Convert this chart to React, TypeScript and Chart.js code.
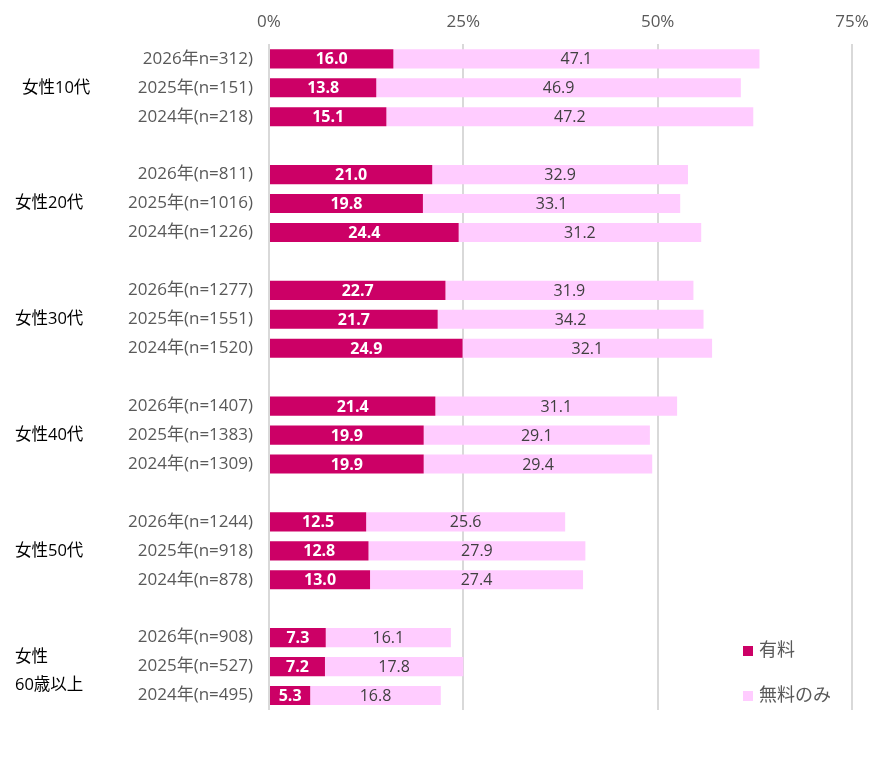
import { useEffect, useRef } from 'react';
import { Chart, registerables } from 'chart.js';

Chart.register(...registerables);

// rows: 3 years per group, blank row between groups
const rowLabels = [
  '2026年n=312)', '2025年(n=151)', '2024年(n=218)', '',
  '2026年(n=811)', '2025年(n=1016)', '2024年(n=1226)', '',
  '2026年(n=1277)', '2025年(n=1551)', '2024年(n=1520)', '',
  '2026年(n=1407)', '2025年(n=1383)', '2024年(n=1309)', '',
  '2026年(n=1244)', '2025年(n=918)', '2024年(n=878)', '',
  '2026年(n=908)', '2025年(n=527)', '2024年(n=495)',
];

const paid = [
  16.0, 13.8, 15.1, null,
  21.0, 19.8, 24.4, null,
  22.7, 21.7, 24.9, null,
  21.4, 19.9, 19.9, null,
  12.5, 12.8, 13.0, null,
  7.3, 7.2, 5.3,
];

const freeOnly = [
  47.1, 46.9, 47.2, null,
  32.9, 33.1, 31.2, null,
  31.9, 34.2, 32.1, null,
  31.1, 29.1, 29.4, null,
  25.6, 27.9, 27.4, null,
  16.1, 17.8, 16.8,
];

const groupLabels = [['女性10代'], ['女性20代'], ['女性30代'], ['女性40代'], ['女性50代'], ['女性', '60歳以上']];
const xTicks = [0, 25, 50, 75];
const seriesNames = ['有料', '無料のみ'];

const PAID_COLOR = '#CC0066';
const FREE_COLOR = '#FFCCFF';
const FONT = "'Open Sans', 'Noto Sans CJK JP', sans-serif";

const labelPlugin = {
  id: 'extraLabels',
  afterDatasetsDraw(chart: any) {
    const ctx = chart.ctx;
    ctx.save();
    ctx.textBaseline = 'middle';
    ctx.textAlign = 'center';
    chart.data.datasets.forEach((ds: any, di: number) => {
      const meta = chart.getDatasetMeta(di);
      meta.data.forEach((el: any, i: number) => {
        const v = ds.data[i];
        if (v == null) return;
        const { x, base, y } = el.getProps(['x', 'base', 'y'], true);
        if (di === 0) {
          ctx.fillStyle = '#FFFFFF';
          ctx.font = `bold 16px ${FONT}`;
        } else {
          ctx.fillStyle = '#404040';
          ctx.font = `16px ${FONT}`;
        }
        ctx.fillText(v.toFixed(1), (x + base) / 2, y + 1);
      });
    });
    ctx.restore();
  },
  afterDraw(chart: any) {
    const ctx = chart.ctx;
    const yScale = chart.scales.y;
    ctx.save();
    ctx.textBaseline = 'middle';
    ctx.textAlign = 'left';
    ctx.font = `16.5px ${FONT}`;
    ctx.fillStyle = '#000000';
    groupLabels.forEach((lines, g) => {
      const yMid = yScale.getPixelForValue(g * 4 + 1);
      const x = g === 0 ? 22 : 15;
      if (lines.length === 1) {
        ctx.fillText(lines[0], x, yMid);
      } else {
        lines.forEach((line, li) => {
          ctx.fillText(line, x, yMid + 5 + (li - 0.5) * 28);
        });
      }
    });
    // legend, bottom right
    const colors = [PAID_COLOR, FREE_COLOR];
    ctx.font = `18px ${FONT}`;
    seriesNames.forEach((name, i) => {
      const ly = 651 + i * 45;
      ctx.fillStyle = colors[i];
      ctx.fillRect(743, ly - 5, 10, 10);
      ctx.fillStyle = '#595959';
      ctx.fillText(name, 759, ly);
    });
    ctx.restore();
  },
};

export default function App() {
  const canvasRef = useRef<HTMLCanvasElement>(null);
  const chartRef = useRef<Chart | null>(null);

  useEffect(() => {
    if (!canvasRef.current) return;
    chartRef.current = new Chart(canvasRef.current, {
      type: 'bar',
      data: {
        labels: rowLabels,
        datasets: [
          {
            label: seriesNames[0],
            data: paid,
            backgroundColor: PAID_COLOR,
            barPercentage: 0.66,
            categoryPercentage: 1,
          },
          {
            label: seriesNames[1],
            data: freeOnly,
            backgroundColor: FREE_COLOR,
            barPercentage: 0.66,
            categoryPercentage: 1,
          },
        ],
      },
      options: {
        indexAxis: 'y',
        animation: false,
        responsive: true,
        maintainAspectRatio: false,
        layout: { padding: { top: 0, right: 34, bottom: 63, left: 0 } },
        plugins: {
          legend: { display: false },
          tooltip: { enabled: false },
        },
        scales: {
          x: {
            position: 'top',
            stacked: true,
            min: 0,
            max: 75,
            afterBuildTicks: (scale: any) => {
              scale.ticks = xTicks.map((v) => ({ value: v }));
            },
            ticks: {
              color: '#595959',
              font: { size: 17, family: FONT },
              padding: 12,
              callback: (v: any) => `${v}%`,
            },
            grid: { color: '#D9D9D9', lineWidth: 2, drawTicks: false },
            border: { display: false },
          },
          y: {
            stacked: true,
            afterFit: (scale: any) => {
              scale.width = 269;
            },
            ticks: {
              color: '#595959',
              font: { size: 17, family: FONT },
              padding: 16,
              autoSkip: false,
            },
            grid: { display: false, drawTicks: false },
            border: { display: false },
          },
        },
      },
      plugins: [labelPlugin],
    });
    return () => {
      chartRef.current?.destroy();
    };
  }, []);

  return (
    <div style={{ position: 'absolute', left: 0, top: 0, width: 886, height: 773, background: '#fff' }}>
      <canvas ref={canvasRef} />
    </div>
  );
}
